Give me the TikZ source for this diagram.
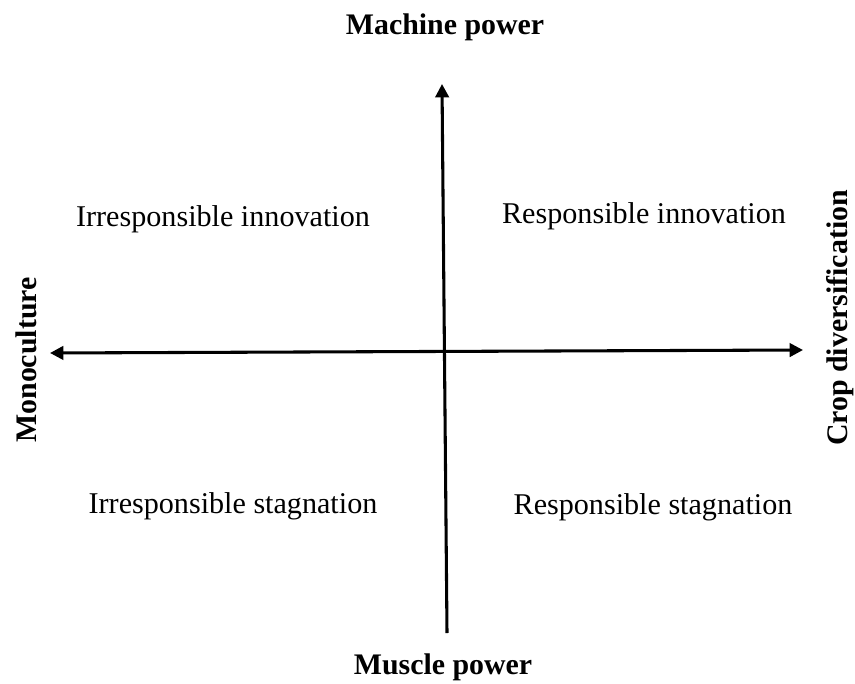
\documentclass[tikz,border=0pt]{standalone}
\usepackage{fontspec}
\setmainfont{Liberation Serif}
\usetikzlibrary{arrows.meta}
\begin{document}
\begin{tikzpicture}[x=0.75pt,y=-0.75pt,
  axis/.style={line width=2.3pt,-{Triangle[length=10pt,width=10pt]}},
  quad/.style={font=\fontsize{22.6}{27}\selectfont},
  head/.style={font=\fontsize{22.4}{27}\selectfont\bfseries}]
\useasboundingbox (0,0) rectangle (855,684);
\coordinate (top) at (442,84);
\coordinate (bot) at (447,633);
\coordinate (left) at (50,353);
\coordinate (right) at (803,350);
\draw[axis] (bot) -- (top);
\draw[axis,{Triangle[length=10pt,width=10pt]}-{Triangle[length=10pt,width=10pt]}] (left) -- (right);
\node[head] (mach) at (445,27) {Machine power};
\node[head] (musc) at (443,667) {Muscle power};
\node[head,rotate=90] (mono) at (26,360) {Monoculture};
\node[head,rotate=90] (crop) at (840,318) {Crop diversification};
\node[quad] (ii) at (223,219) {Irresponsible innovation};
\node[quad] (ri) at (644,216) {Responsible innovation};
\node[quad] (is) at (233,506) {Irresponsible stagnation};
\node[quad] (rs) at (653,507) {Responsible stagnation};
\end{tikzpicture}
\end{document}
